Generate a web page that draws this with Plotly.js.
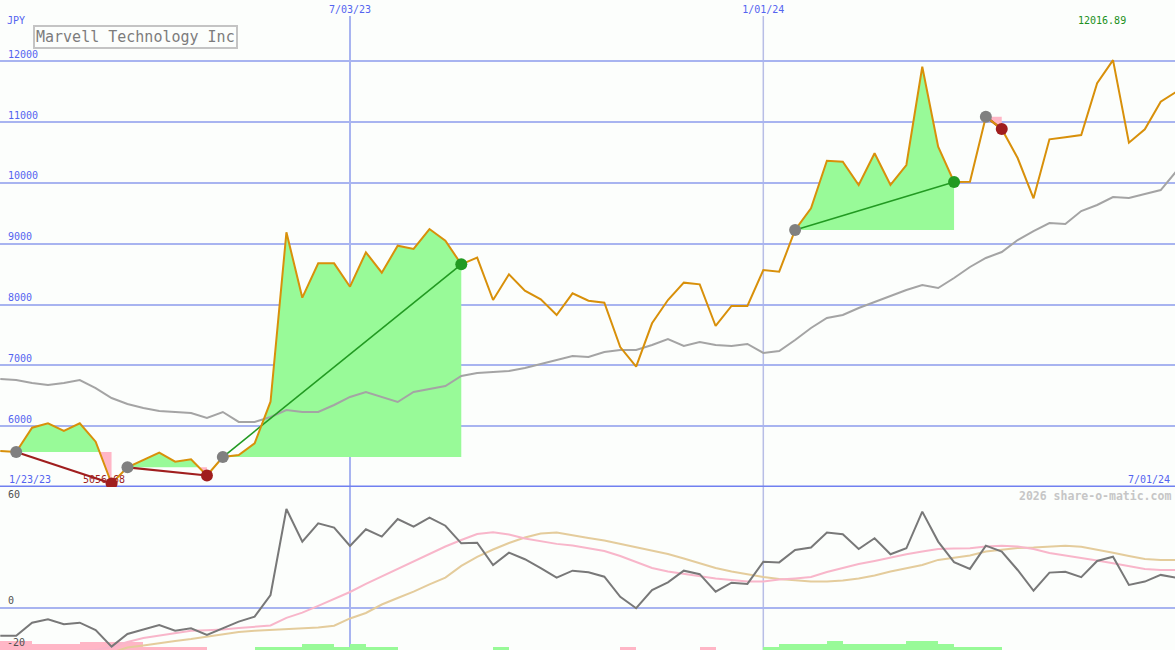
<!DOCTYPE html>
<html><head><meta charset="utf-8">
<script src="https://cdn.plot.ly/plotly-3.0.1.min.js"></script>
<style>html,body{margin:0;padding:0;background:#fcfefc;}#chart{width:1175px;height:650px;}</style>
</head><body><div id="chart"></div>
<script>
// ---------- data ----------
const dates = ['2023-01-30','2023-02-06','2023-02-13','2023-02-20','2023-02-27','2023-03-06','2023-03-13','2023-03-20','2023-03-27','2023-04-03',
'2023-04-10','2023-04-17','2023-04-24','2023-05-01','2023-05-08','2023-05-15','2023-05-22','2023-05-29','2023-06-05','2023-06-12',
'2023-06-19','2023-06-26','2023-07-03','2023-07-10','2023-07-17','2023-07-24','2023-07-31','2023-08-07','2023-08-14','2023-08-21',
'2023-08-28','2023-09-04','2023-09-11','2023-09-18','2023-09-25','2023-10-02','2023-10-09','2023-10-16','2023-10-23','2023-10-30',
'2023-11-06','2023-11-13','2023-11-20','2023-11-27','2023-12-04','2023-12-11','2023-12-18','2023-12-25','2024-01-01','2024-01-08',
'2024-01-15','2024-01-22','2024-01-29','2024-02-05','2024-02-12','2024-02-19','2024-02-26','2024-03-04','2024-03-11','2024-03-18',
'2024-03-25','2024-04-01','2024-04-08','2024-04-15','2024-04-22','2024-04-29','2024-05-06','2024-05-13','2024-05-20','2024-05-27',
'2024-06-03','2024-06-10','2024-06-17','2024-06-24','2024-07-01'];

const price = [5590,5575,5975,6047,5921,6047,5745,5056.68,5324,5444,
5564,5416,5455,5189,5493,5526,5718,6402,9187,8112,
8677,8677,8293,8858,8523,8967,8913,9241,9049,8661,
8770,8074,8497,8227,8086,7828,8184,8063,8030,7301,
6978,7691,8074,8359,8332,7647,7976,7976,8567,8539,
9225,9582,10364,10348,9965,10486,9965,10293,11909,10594,
10014,10019,11088,10885,10408,9746,10716,10749,10787,11637,
12016.89,10660,10880,11334,11500];

const priceMA = [6775,6759,6710,6677,6710,6759,6627,6463,6364,6299,
6249,6233,6216,6134,6233,6069,6069,6151,6266,6233,
6233,6348,6480,6562,6480,6397,6562,6611,6660,6825,
6874,6890,6907,6956,7022,7088,7154,7137,7219,7252,
7252,7334,7433,7318,7384,7334,7318,7351,7203,7236,
7417,7614,7778,7828,7943,8041,8140,8239,8321,8271,
8436,8617,8765,8863,9060,9208,9340,9323,9537,9636,
9767,9751,9817,9882,10195];

const osc = [-15.9,-15.9,-8.5,-6.6,-9.4,-8.5,-12.7,-22.1,-14.9,-12.4,
-9.8,-13.1,-11.7,-15.5,-11.7,-7.9,-5.1,7.2,56.0,37.5,
47.9,45.4,35.0,44.5,40.3,50.3,46.0,51.1,46.5,36.5,
36.9,24.2,31.2,27.5,22.4,17.0,21.0,20.1,17.6,6.2,
-0.3,10.0,14.4,21.0,19.0,9.1,14.2,13.5,26.1,25.7,
32.7,34.1,42.6,41.7,33.3,39.4,30.3,33.7,54.5,37.5,
25.8,22.0,35.2,31.8,21.4,9.6,19.9,20.4,17.3,26.5,
28.9,12.9,14.8,18.6,16.9];

const oscPink = [-28,-27,-26,-25.5,-25,-24.5,-24,-22.3,-19.5,-17.2,
-15.8,-14.4,-13.1,-12.8,-12.4,-11.5,-11.0,-10.1,-5.8,-2.8,
1.0,4.8,8.9,13.5,17.7,22.0,26.1,30.5,34.7,38.4,
41.8,42.8,41.5,39.3,37.6,36.2,35.3,33.9,32.2,29.3,
25.9,22.5,20.5,19.1,17.7,16.6,15.7,14.9,14.9,16.0,
16.6,17.4,20.2,22.5,24.8,26.5,28.5,30.3,31.9,33.3,
33.6,33.7,34.7,35.1,34.7,33.3,31.0,29.6,28.5,26.8,
25.2,23.7,22.0,21.4,21.4];

const oscTan = [-30,-30,-29.5,-29,-28.5,-28,-27,-25.5,-22.6,-21.5,
-20.0,-18.9,-17.8,-16.6,-15.2,-13.8,-13.1,-12.7,-12.3,-11.8,
-11.2,-10.2,-6.1,-3.0,1.8,5.5,9.1,13.2,17.1,23.7,
28.8,33.0,36.7,39.8,42.1,42.7,41.0,39.6,38.1,36.2,
34.7,32.7,30.5,27.9,25.1,22.5,20.5,18.8,17.4,16.3,
15.4,14.9,14.9,15.4,16.6,18.3,20.5,22.5,24.2,27.1,
28.5,29.6,31.9,33.1,33.9,34.2,34.7,35.2,34.6,33.0,
31.2,29.3,27.6,27.0,27.0];

const sigBars = [-5.1,-5.1,-3.4,-3.4,-3.4,-4.4,-4.4,-4.4,-4.4,-1.9,
-1.9,-1.9,-1.9,0,0,0,1.9,1.9,1.9,3.4,
3.4,1.9,3.4,1.9,1.9,0,0,0,0,0,
0,1.9,0,0,0,0,0,0,0,-1.9,
0,0,0,0,-1.9,0,0,0,1.9,3.2,
3.2,3.2,5.1,3.2,3.2,3.2,3.2,5.1,5.1,3.2,
1.9,1.9,1.9,0,0,0,0,0,0,0,
0,0,0,0,0];

const tradeEntry = ['2023-02-06','2023-03-27','2023-05-08','2024-01-15','2024-04-08'];
const tradeExit  = ['2023-03-20','2023-05-01','2023-08-21','2024-03-25','2024-04-15'];

const xTickVals = ['2023-07-03','2024-01-01'];
const xTickText = ['7/03/23','1/01/24'];
const yTickVals = [6000,7000,8000,9000,10000,11000,12000];
const yTickText = ['6000','7000','8000','9000','10000','11000','12000'];
const oscTickVals = [60,0];
const oscTickText = ['60','0'];
const oscLowVal = -20;
const oscLowText = '-20';
const startLabel = '1/23/23';
const endLabel = '7/01/24';
const stockName = 'Marvell Technology Inc';
const currency = 'JPY';
const credit = '2026 share-o-matic.com';

// ---------- helpers ----------
const FONT = 'DejaVu Sans Mono';
const GREEN_FILL = '#98fa98', PINK_FILL = '#ffb6c6';
const ms = d => Date.parse(d + 'T00:00:00Z');
const toStr = m => new Date(m).toISOString().replace('T',' ').replace('Z','');
const t = dates.map(ms);
const H = 650;
const py = p => 1 - p / H;

const traces = [];

// trade fills
tradeEntry.forEach((ed, k) => {
  const a = dates.indexOf(ed), b = dates.indexOf(tradeExit[k]);
  const base = price[a];
  const pts = [];
  for (let i = a; i <= b; i++) {
    pts.push([t[i], price[i]]);
    if (i < b && (price[i] - base) * (price[i + 1] - base) < 0) {
      const f = (base - price[i]) / (price[i + 1] - price[i]);
      pts.push([t[i] + f * (t[i + 1] - t[i]), base]);
    }
  }
  const mk = (fn, color) => {
    const xs = pts.map(p => toStr(p[0])), ys = pts.map(p => fn(p[1], base));
    xs.push(toStr(t[b]), toStr(t[a])); ys.push(base, base);
    traces.push({x: xs, y: ys, type: 'scatter', mode: 'lines', fill: 'toself',
      fillcolor: color, line: {width: 0, color: color}, hoverinfo: 'skip', xaxis: 'x', yaxis: 'y'});
  };
  mk(Math.max, GREEN_FILL);
  mk(Math.min, PINK_FILL);
});

// moving average
traces.push({x: dates, y: priceMA, type: 'scatter', mode: 'lines',
  line: {color: '#a4a4a4', width: 2}, xaxis: 'x', yaxis: 'y'});

// trade lines
tradeEntry.forEach((ed, k) => {
  const a = dates.indexOf(ed), b = dates.indexOf(tradeExit[k]);
  const win = price[b] >= price[a];
  traces.push({x: [dates[a], dates[b]], y: [price[a], price[b]], type: 'scatter', mode: 'lines',
    line: {color: win ? '#229a22' : '#a01e1e', width: win ? 1.6 : 2.2}, xaxis: 'x', yaxis: 'y'});
});

// price
traces.push({x: dates, y: price, type: 'scatter', mode: 'lines',
  line: {color: '#d8900a', width: 2}, xaxis: 'x', yaxis: 'y'});

// markers
const entIdx = tradeEntry.map(d => dates.indexOf(d));
const exIdx = tradeExit.map(d => dates.indexOf(d));
traces.push({x: entIdx.map(i => dates[i]), y: entIdx.map(i => price[i]), type: 'scatter', mode: 'markers',
  marker: {color: '#808080', size: 12}, xaxis: 'x', yaxis: 'y'});
traces.push({x: exIdx.map(i => dates[i]), y: exIdx.map(i => price[i]), type: 'scatter', mode: 'markers',
  marker: {color: exIdx.map((i, k) => price[i] >= price[entIdx[k]] ? '#229a22' : '#a01e1e'), size: 12},
  xaxis: 'x', yaxis: 'y'});

// lower panel
const OSC_BOTTOM = -24;
traces.push({x: dates, y: sigBars.map(v => Math.abs(v)), base: OSC_BOTTOM, type: 'bar',
  offset: 0, width: 7 * 86400000,
  marker: {color: sigBars.map(v => v >= 0 ? GREEN_FILL : PINK_FILL), line: {width: 0}},
  xaxis: 'x', yaxis: 'y2'});
traces.push({x: dates, y: oscTan, type: 'scatter', mode: 'lines',
  line: {color: '#e4cc9c', width: 2}, xaxis: 'x', yaxis: 'y2'});
traces.push({x: dates, y: oscPink, type: 'scatter', mode: 'lines',
  line: {color: '#f8b6ca', width: 2}, xaxis: 'x', yaxis: 'y2'});
traces.push({x: dates, y: osc, type: 'scatter', mode: 'lines',
  line: {color: '#787878', width: 2}, xaxis: 'x', yaxis: 'y2'});

// annotations
const iMax = price.indexOf(Math.max(...price));
const iMin = price.indexOf(Math.min(...price));
const blue = '#5464f0';
const annotations = [
  {text: currency, xref: 'paper', yref: 'paper', x: 5/1175, y: py(21), xanchor: 'left', yanchor: 'middle',
   showarrow: false, font: {family: FONT, size: 10, color: blue}},
  {text: stockName, xref: 'paper', yref: 'paper', x: 33/1175, y: py(25.5), xanchor: 'left', yanchor: 'top',
   showarrow: false, font: {family: FONT, size: 15, color: '#7c7c7c'}, bordercolor: '#c4c4c4', borderwidth: 2,
   borderpad: 1, bgcolor: '#fcfefc'},
  {text: startLabel, xref: 'paper', yref: 'paper', x: 7/1175, y: py(479), xanchor: 'left', yanchor: 'middle',
   showarrow: false, font: {family: FONT, size: 10, color: blue}},
  {text: endLabel, xref: 'paper', yref: 'paper', x: 1172/1175, y: py(479), xanchor: 'right', yanchor: 'middle',
   showarrow: false, font: {family: FONT, size: 10, color: blue}},
  {text: price[iMax].toFixed(2), xref: 'x', yref: 'paper', x: dates[iMax], xshift: -11, y: py(21),
   xanchor: 'center', yanchor: 'middle', showarrow: false, font: {family: FONT, size: 10, color: '#209020'}},
  {text: price[iMin].toFixed(2), xref: 'x', yref: 'paper', x: dates[iMin], xshift: -8, y: py(479),
   xanchor: 'center', yanchor: 'middle', showarrow: false, font: {family: FONT, size: 10, color: '#a01e1e'}},
  {text: oscLowText, xref: 'paper', yref: 'y2', x: 5/1175, y: oscLowVal, xanchor: 'left', yanchor: 'middle',
   showarrow: false, font: {family: FONT, size: 10, color: '#505050'}},
  {text: '<b>' + credit + '</b>', xref: 'paper', yref: 'paper', x: 1173/1175, y: py(496), xanchor: 'right', yanchor: 'middle',
   showarrow: false, font: {family: FONT, size: 11.5, color: '#c6c6c6'}}
];

const shapes = xTickVals.map((v, k) => ({type: 'line', xref: 'x', yref: 'paper', x0: v, x1: v, y0: 0, y1: py(16),
  line: {color: k === 0 ? '#a8b4f0' : '#b8bee6', width: k === 0 ? 2 : 1.5}, layer: 'below'}));
shapes.push({type: 'line', xref: 'paper', yref: 'y', x0: 0, x1: 1, y0: 5000, y1: 5000,
  line: {color: '#7080f0', width: 3}, layer: 'below'});

const layout = {
  width: 1175, height: 650, margin: {l: 0, r: 0, t: 0, b: 0},
  paper_bgcolor: '#fcfefc', plot_bgcolor: 'rgba(0,0,0,0)', showlegend: false, bargap: 0,
  xaxis: {type: 'date', range: ['2023-01-29 21:00', '2024-06-30 07:00'], side: 'top', anchor: 'y',
    tickmode: 'array', tickvals: xTickVals, ticktext: xTickText, ticks: '', showgrid: false, zeroline: false,
    showline: false, tickfont: {family: FONT, size: 10, color: blue}, fixedrange: true},
  yaxis: {domain: [py(487), py(16)], range: [5000, 12743], tickmode: 'array', tickvals: yTickVals, ticktext: yTickText,
    ticklabelposition: 'inside top', ticklabelstandoff: 5, gridcolor: '#a8b4f0', gridwidth: 2, zeroline: false, showline: false,
    ticks: '', tickfont: {family: FONT, size: 10, color: blue}, fixedrange: true},
  yaxis2: {domain: [0, py(488)], range: [OSC_BOTTOM, 67.9], anchor: 'x', tickmode: 'array', tickvals: oscTickVals,
    ticktext: oscTickText, ticklabelposition: 'inside top', ticklabelstandoff: 5, showgrid: false, zeroline: true,
    zerolinecolor: '#a8b4f0', zerolinewidth: 2,
    showline: false, ticks: '', tickfont: {family: FONT, size: 10, color: '#505050'}, fixedrange: true},
  annotations: annotations, shapes: shapes
};

Plotly.newPlot('chart', traces, layout, {staticPlot: true, displayModeBar: false});
</script></body></html>
